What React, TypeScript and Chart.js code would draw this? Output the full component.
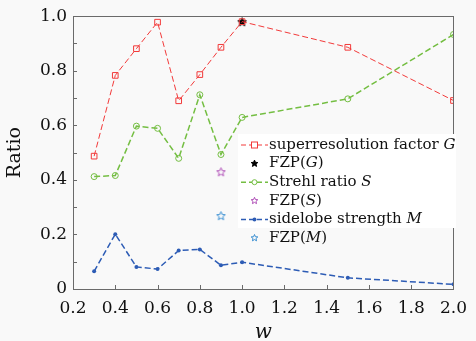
import React, { useEffect, useRef } from 'react';
import { Chart, registerables } from 'chart.js';
Chart.register(...registerables);

const wValues = [0.3, 0.4, 0.5, 0.6, 0.7, 0.8, 0.9, 1.0, 1.5, 2.0];
const gValues = [0.487, 0.783, 0.881, 0.978, 0.69, 0.786, 0.886, 0.98, 0.886, 0.691];
const sValues = [0.412, 0.416, 0.597, 0.589, 0.479, 0.712, 0.493, 0.629, 0.697, 0.933];
const mValues = [0.065, 0.201, 0.081, 0.073, 0.141, 0.145, 0.087, 0.098, 0.041, 0.017];
const fzpW = [1.0, 0.9, 0.9];
const fzpValues = [0.98, 0.43, 0.269];
const xTicks = [0.2, 0.4, 0.6, 0.8, 1.0, 1.2, 1.4, 1.6, 1.8, 2.0];

const RED = '#f23a3a';
const GREEN = '#74be42';
const BLUE = '#2d5cb5';
const MAGENTA = '#b04fb8';
const SKY = '#3a8fd2';
const SERIF = '"DejaVu Serif", serif';

function starPath(ctx: CanvasRenderingContext2D, cx: number, cy: number, r: number) {
  const inner = r * 0.45;
  ctx.beginPath();
  for (let i = 0; i < 10; i++) {
    const rad = i % 2 === 0 ? r : inner;
    const a = -Math.PI / 2 + (i * Math.PI) / 5;
    const x = cx + rad * Math.cos(a);
    const y = cy + rad * Math.sin(a);
    if (i === 0) ctx.moveTo(x, y);
    else ctx.lineTo(x, y);
  }
  ctx.closePath();
}

function makeStar(color: string, filled: boolean, r = 4.5) {
  const c = document.createElement('canvas');
  const s = Math.ceil(r * 2 + 4);
  c.width = s;
  c.height = s;
  const ctx = c.getContext('2d')!;
  starPath(ctx, s / 2, s / 2 + 0.5, r);
  ctx.lineWidth = 1;
  ctx.strokeStyle = color;
  if (filled) {
    ctx.fillStyle = color;
    ctx.fill();
  }
  ctx.stroke();
  return c;
}

type Part = { t: string; i?: boolean };
const legendItems: { parts: Part[]; kind: 'line' | 'star'; color: string; marker: string; filled?: boolean }[] = [
  { parts: [{ t: 'superresolution factor ' }, { t: 'G', i: true }], kind: 'line', color: RED, marker: 'rect' },
  { parts: [{ t: 'FZP(' }, { t: 'G', i: true }, { t: ')' }], kind: 'star', color: '#000', marker: 'star', filled: true },
  { parts: [{ t: 'Strehl ratio ' }, { t: 'S', i: true }], kind: 'line', color: GREEN, marker: 'circle' },
  { parts: [{ t: 'FZP(' }, { t: 'S', i: true }, { t: ')' }], kind: 'star', color: MAGENTA, marker: 'star' },
  { parts: [{ t: 'sidelobe strength ' }, { t: 'M', i: true }], kind: 'line', color: BLUE, marker: 'dot' },
  { parts: [{ t: 'FZP(' }, { t: 'M', i: true }, { t: ')' }], kind: 'star', color: SKY, marker: 'star' },
];

const framePlugin = {
  id: 'frame',
  beforeDraw(chart: any) {
    const { ctx, width, height } = chart;
    ctx.save();
    ctx.fillStyle = '#f9f9f9';
    ctx.fillRect(0, 0, width, height);
    ctx.restore();
  },
  afterDatasetsDraw(chart: any) {
    const { ctx, chartArea: a, scales } = chart;
    ctx.save();
    ctx.strokeStyle = '#6a6a6a';
    ctx.lineWidth = 1;
    ctx.strokeRect(Math.round(a.left) + 0.5, Math.round(a.top) + 0.5, Math.round(a.right - a.left), Math.round(a.bottom - a.top));
    ctx.beginPath();
    for (let k = 1; k < 10; k++) {
      const y = Math.round(scales.y.getPixelForValue(k / 10)) + 0.5;
      ctx.moveTo(a.left, y);
      ctx.lineTo(a.left + 4, y);
    }
    for (const v of xTicks) {
      const x = Math.round(scales.x.getPixelForValue(v)) + 0.5;
      ctx.moveTo(x, a.bottom);
      ctx.lineTo(x, a.bottom - 4);
    }
    ctx.stroke();

    // legend
    const lx = 238, ly = 136, rowH = 18.6;
    ctx.fillStyle = '#ffffff';
    ctx.fillRect(lx, ly - 2, 218, 94);
    ctx.textBaseline = 'middle';
    legendItems.forEach((it, idx) => {
      const cy = ly + 9 + idx * rowH;
      const sx = 241, ex = 268, mx = 254.5;
      if (it.kind === 'line') {
        ctx.save();
        ctx.strokeStyle = it.color;
        ctx.lineWidth = it.color === RED ? 1 : 1.5;
        ctx.setLineDash([5, 3]);
        ctx.beginPath();
        ctx.moveTo(sx, cy);
        ctx.lineTo(ex, cy);
        ctx.stroke();
        ctx.setLineDash([]);
        ctx.lineWidth = 1;
        if (it.marker === 'rect') {
          ctx.fillStyle = '#fff';
          ctx.fillRect(mx - 3, cy - 3, 6, 6);
          ctx.strokeRect(mx - 3, cy - 3, 6, 6);
        } else if (it.marker === 'circle') {
          ctx.fillStyle = '#fff';
          ctx.beginPath();
          ctx.arc(mx, cy, 2.5, 0, Math.PI * 2);
          ctx.fill();
          ctx.stroke();
        } else {
          ctx.fillStyle = it.color;
          ctx.beginPath();
          ctx.arc(mx, cy, 2, 0, Math.PI * 2);
          ctx.fill();
        }
        ctx.restore();
      } else {
        ctx.save();
        starPath(ctx, mx, cy, 3.5);
        ctx.strokeStyle = it.color;
        ctx.lineWidth = 1;
        if (it.filled) {
          ctx.fillStyle = it.color;
          ctx.fill();
        }
        ctx.stroke();
        ctx.restore();
      }
      let tx = 269;
      ctx.fillStyle = '#111';
      for (const p of it.parts) {
        ctx.font = (p.i ? 'italic ' : '') + '15px ' + SERIF;
        ctx.fillText(p.t, tx, cy);
        tx += ctx.measureText(p.t).width;
      }
    });
    ctx.restore();
  },
};

export default function App() {
  const ref = useRef<HTMLCanvasElement>(null);
  useEffect(() => {
    const canvas = ref.current!;
    const pts = (ys: number[]) => wValues.map((x, i) => ({ x, y: ys[i] }));
    const chart = new Chart(canvas, {
      type: 'line',
      data: {
        datasets: [
          {
            label: 'superresolution factor G',
            data: pts(gValues),
            borderColor: RED,
            borderWidth: 1,
            borderDash: [6, 3],
            pointStyle: 'rect',
            pointRadius: 4,
            pointBorderColor: RED,
            pointBackgroundColor: 'rgba(255,255,255,0)',
            pointBorderWidth: 1,
            showLine: true,
          },
          {
            label: 'Strehl ratio S',
            data: pts(sValues),
            borderColor: GREEN,
            borderWidth: 1.5,
            borderDash: [6, 3],
            pointStyle: 'circle',
            pointRadius: 3,
            pointBorderColor: GREEN,
            pointBackgroundColor: 'rgba(255,255,255,0)',
            pointBorderWidth: 1,
          },
          {
            label: 'sidelobe strength M',
            data: pts(mValues),
            borderColor: BLUE,
            borderWidth: 1.5,
            borderDash: [6, 3],
            pointStyle: 'circle',
            pointRadius: 2,
            pointBorderColor: BLUE,
            pointBackgroundColor: BLUE,
            pointBorderWidth: 0,
          },
          {
            label: 'FZP(G)',
            data: [{ x: fzpW[0], y: fzpValues[0] }],
            showLine: false,
            pointStyle: makeStar('#000', true) as any,
          },
          {
            label: 'FZP(S)',
            data: [{ x: fzpW[1], y: fzpValues[1] }],
            showLine: false,
            pointStyle: makeStar(MAGENTA, false) as any,
          },
          {
            label: 'FZP(M)',
            data: [{ x: fzpW[2], y: fzpValues[2] }],
            showLine: false,
            pointStyle: makeStar(SKY, false) as any,
          },
        ],
      },
      options: {
        responsive: false,
        animation: false,
        layout: { padding: { top: 14, right: 17, left: 0, bottom: 0 } },
        plugins: { legend: { display: false }, tooltip: { enabled: false } },
        scales: {
          x: {
            type: 'linear',
            min: 0.2,
            max: 2.0,
            afterBuildTicks: (s: any) => {
              s.ticks = xTicks.map((v) => ({ value: v }));
            },
            ticks: {
              callback: (v: any) => Number(v).toFixed(1),
              font: { family: SERIF, size: 17 },
              color: '#111',
              padding: 9,
              maxRotation: 0,
            },
            grid: { display: false, drawTicks: false },
            border: { display: false },
            title: {
              display: true,
              text: 'w',
              font: { family: SERIF, size: 20, style: 'italic' },
              color: '#111',
              padding: { top: 0, bottom: -4 },
            },
            afterFit: (s: any) => {
              s.height = 52;
            },
          },
          y: {
            min: 0,
            max: 1,
            ticks: {
              stepSize: 0.1,
              callback: (v: any) => {
                const k = Math.round(Number(v) * 10);
                if (k % 2 !== 0) return '';
                return k === 0 ? '0' : (k / 10).toFixed(1);
              },
              font: { family: SERIF, size: 17 },
              color: '#111',
              padding: 6,
            },
            grid: { display: false, drawTicks: false },
            border: { display: false },
            title: {
              display: true,
              text: 'Ratio',
              font: { family: SERIF, size: 19 },
              color: '#111',
              padding: { top: 4, bottom: 0 },
            },
            afterFit: (s: any) => {
              s.width = 73;
            },
          },
        },
      },
      plugins: [framePlugin],
    });
    return () => chart.destroy();
  }, []);
  return (
    <div style={{ position: 'fixed', left: 0, top: 0, width: 476, height: 341 }}>
      <canvas ref={ref} width={476} height={341} />
    </div>
  );
}
